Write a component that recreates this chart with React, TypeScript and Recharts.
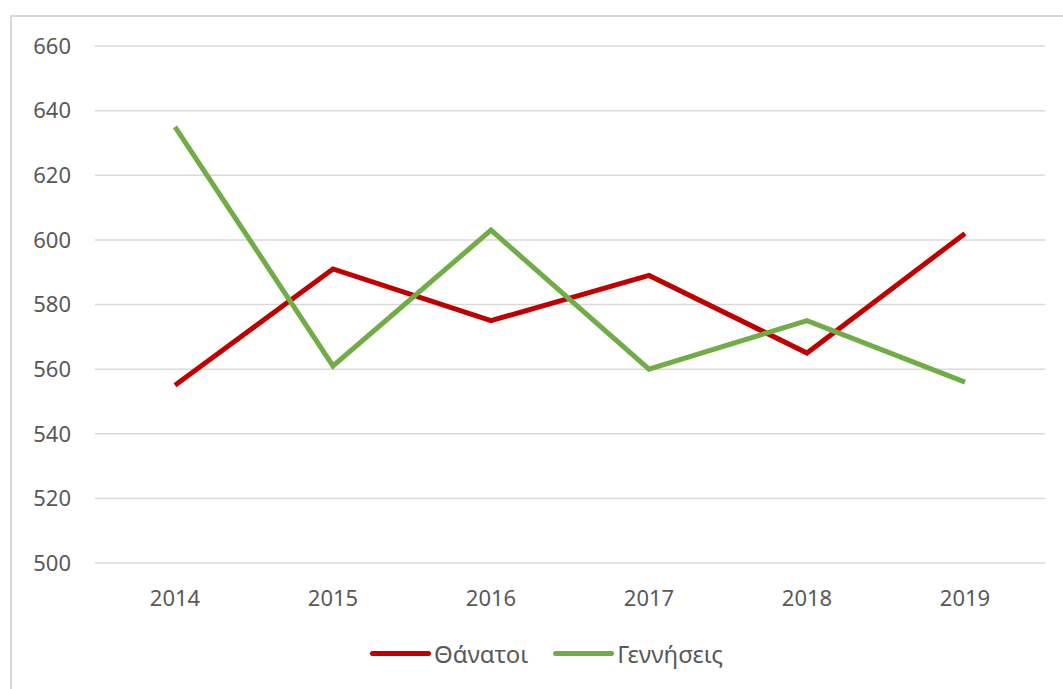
import { LineChart, Line, XAxis, YAxis, CartesianGrid, Legend } from "recharts";

const YEARS = ["2014", "2015", "2016", "2017", "2018", "2019"];
const DEATHS = [555, 591, 575, 589, 565, 602];
const BIRTHS = [635, 561, 603, 560, 575, 556];
const Y_TICKS = [500, 520, 540, 560, 580, 600, 620, 640, 660];

const FONT = "'Noto Sans', sans-serif";
const TEXT = "#595959";

const data = YEARS.map((year, i) => ({ year, deaths: DEATHS[i], births: BIRTHS[i] }));

function LegendContent() {
  const items = [
    { label: "Θάνατοι", color: "#c00000" },
    { label: "Γεννήσεις", color: "#70ad47" },
  ];
  return (
    <div style={{ display: "flex", justifyContent: "flex-start", paddingLeft: 370, gap: 25, fontFamily: FONT, fontSize: 24, color: TEXT }}>
      {items.map((it) => (
        <div key={it.label} style={{ display: "flex", alignItems: "center" }}>
          <span style={{ display: "inline-block", width: 61, height: 5, borderRadius: 3, background: it.color, marginRight: 3 }} />
          <span>{it.label}</span>
        </div>
      ))}
    </div>
  );
}

export default function App() {
  return (
    <div style={{ position: "absolute", left: 0, top: 0, width: 1063, height: 689, overflow: "hidden", background: "#fff" }}>
      <div style={{ position: "absolute", left: 10, top: 15, width: 1100, height: 720, border: "2px solid #d9d9d9" }} />
      <div style={{ position: "absolute", left: 0, top: 0 }}>
        <LineChart width={1063} height={689} data={data} margin={{ top: 46, right: 18, left: 35, bottom: 86 }}>
          <CartesianGrid vertical={false} stroke="#d9d9d9" strokeWidth={1.5} />
          <XAxis
            dataKey="year"
            axisLine={false}
            tickLine={false}
            height={40}
            padding={{ left: 80, right: 80 }}
            tickMargin={21}
            tick={{ fill: TEXT, fontSize: 22, fontFamily: FONT }}
          />
          <YAxis
            domain={[500, 660]}
            ticks={Y_TICKS}
            axisLine={false}
            tickLine={false}
            width={60}
            tickMargin={18}
            tick={{ fill: TEXT, fontSize: 22, fontFamily: FONT }}
          />
          <Legend verticalAlign="middle" wrapperStyle={{ top: 637, left: 0, width: 1063 }} content={<LegendContent />} />
          <Line dataKey="deaths" name="Θάνατοι" stroke="#c00000" strokeWidth={5} dot={false} isAnimationActive={false} />
          <Line dataKey="births" name="Γεννήσεις" stroke="#70ad47" strokeWidth={5} dot={false} isAnimationActive={false} />
        </LineChart>
      </div>
    </div>
  );
}
